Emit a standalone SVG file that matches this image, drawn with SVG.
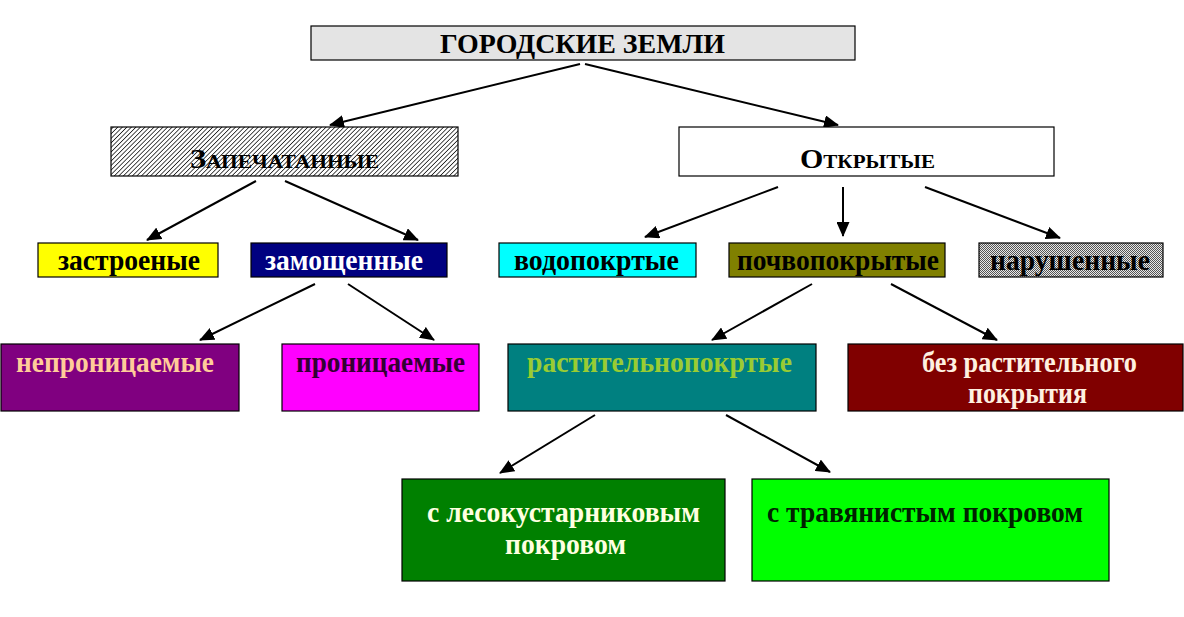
<svg xmlns="http://www.w3.org/2000/svg" width="1184" height="617" viewBox="0 0 1184 617">
<style>
.box{stroke:#000;stroke-width:1.2}
.t{font-family:"Liberation Serif","Times New Roman",serif;font-weight:bold}
.c{stroke:#000;stroke-width:2;fill:none;marker-end:url(#ah)}
</style>
<defs>
<marker id="ah" viewBox="0 0 15 13" refX="14" refY="6.5" markerWidth="15" markerHeight="13" markerUnits="userSpaceOnUse" orient="auto">
<path d="M0,0 L15,6.5 L0,13 Z" fill="#000"/>
</marker>
<pattern id="hatch" width="3.2" height="3.2" patternUnits="userSpaceOnUse" patternTransform="rotate(45)">
<rect width="3.2" height="3.2" fill="#fff"/>
<line x1="0" y1="0" x2="0" y2="3.2" stroke="#000" stroke-width="1.4"/>
</pattern>
<pattern id="dots" width="2" height="2" patternUnits="userSpaceOnUse">
<rect width="2" height="2" fill="#e8e8e8"/>
<rect width="1" height="1" fill="#555"/>
<rect x="1" y="1" width="1" height="1" fill="#555"/>
</pattern>
</defs>
<rect width="1184" height="617" fill="#fff"/>

<g id="connectors">
<line class="c" x1="580" y1="64" x2="330" y2="125"/>
<line class="c" x1="585" y1="64" x2="838" y2="125"/>
<line class="c" x1="256" y1="181" x2="147" y2="240"/>
<line class="c" x1="285" y1="181" x2="418" y2="240"/>
<line class="c" x1="778" y1="187" x2="645" y2="237"/>
<line class="c" x1="843" y1="187" x2="843" y2="236"/>
<line class="c" x1="925" y1="187" x2="1060" y2="238"/>
<line class="c" x1="315" y1="284" x2="200" y2="340"/>
<line class="c" x1="348" y1="284" x2="434" y2="340"/>
<line class="c" x1="812" y1="284" x2="712" y2="340"/>
<line class="c" x1="891" y1="284" x2="997" y2="340"/>
<line class="c" x1="595" y1="415" x2="500" y2="473"/>
<line class="c" x1="726" y1="415" x2="830" y2="472"/>
</g>

<g id="gorodskie">
<rect class="box" x="311" y="26" width="544" height="34" fill="#e4e4e4"/>
<text class="t" x="440" y="53" font-size="27" textLength="285" lengthAdjust="spacingAndGlyphs" fill="#000">ГОРОДСКИЕ ЗЕМЛИ</text>
</g>

<g id="zapechatannye">
<rect class="box" x="111" y="127" width="347" height="49" fill="url(#hatch)"/>
<text class="t" x="190" y="168" font-size="27" font-variant="small-caps" textLength="189" lengthAdjust="spacingAndGlyphs" fill="#000">Запечатанные</text>
</g>

<g id="otkrytye">
<rect class="box" x="679" y="127" width="375" height="49" fill="#fff"/>
<text class="t" x="800" y="168" font-size="27" font-variant="small-caps" textLength="135" lengthAdjust="spacingAndGlyphs" fill="#000">Открытые</text>
</g>

<g id="zastroenye">
<rect class="box" x="38" y="243" width="180" height="34" fill="#ffff00"/>
<text class="t" x="58" y="270" font-size="29" textLength="142" lengthAdjust="spacingAndGlyphs" fill="#000">застроеные</text>
</g>

<g id="zamoshchennye">
<rect class="box" x="251" y="243" width="196" height="34" fill="#000080"/>
<text class="t" x="265" y="270" font-size="29" textLength="158" lengthAdjust="spacingAndGlyphs" fill="#fff">замощенные</text>
</g>

<g id="vodopokrtye">
<rect class="box" x="499" y="243" width="197" height="34" fill="#00ffff"/>
<text class="t" x="514" y="270" font-size="29" textLength="165" lengthAdjust="spacingAndGlyphs" fill="#000">водопокртые</text>
</g>

<g id="pochvopokrytye">
<rect class="box" x="729" y="243" width="216" height="34" fill="#808000"/>
<text class="t" x="737" y="270" font-size="29" textLength="202" lengthAdjust="spacingAndGlyphs" fill="#000">почвопокрытые</text>
</g>

<g id="narushennye">
<rect class="box" x="979" y="243" width="184" height="34" fill="url(#dots)"/>
<text class="t" x="990" y="270" font-size="29" textLength="160" lengthAdjust="spacingAndGlyphs" fill="#000">нарушенные</text>
</g>

<g id="nepronitsaemye">
<rect class="box" x="1" y="344" width="238" height="67" fill="#800080"/>
<text class="t" x="16" y="372" font-size="29" textLength="198" lengthAdjust="spacingAndGlyphs" fill="#ffcc99">непроницаемые</text>
</g>

<g id="pronitsaemye">
<rect class="box" x="282" y="344" width="197" height="67" fill="#ff00ff"/>
<text class="t" x="296" y="372" font-size="29" textLength="169" lengthAdjust="spacingAndGlyphs" fill="#330033">проницаемые</text>
</g>

<g id="rastitelnopokrtye">
<rect class="box" x="508" y="344" width="308" height="67" fill="#008080"/>
<text class="t" x="527" y="372" font-size="29" textLength="265" lengthAdjust="spacingAndGlyphs" fill="#99cc33">растительнопокртые</text>
</g>

<g id="bez-rastitelnogo">
<rect class="box" x="848" y="344" width="335" height="67" fill="#800000"/>
<text class="t" x="922" y="372" font-size="29" textLength="215" lengthAdjust="spacingAndGlyphs" fill="#fff0e0">без растительного</text>
<text class="t" x="968" y="403" font-size="29" textLength="119" lengthAdjust="spacingAndGlyphs" fill="#fff0e0">покрытия</text>
</g>

<g id="lesokustarnikovym">
<rect class="box" x="402" y="479" width="323" height="102" fill="#008000"/>
<text class="t" x="427" y="522" font-size="29" textLength="273" lengthAdjust="spacingAndGlyphs" fill="#ffffe0">с лесокустарниковым</text>
<text class="t" x="505" y="554" font-size="29" textLength="121" lengthAdjust="spacingAndGlyphs" fill="#ffffe0">покровом</text>
</g>

<g id="travyanistym">
<rect class="box" x="752" y="479" width="357" height="102" fill="#00ff00"/>
<text class="t" x="767" y="522" font-size="29" textLength="316" lengthAdjust="spacingAndGlyphs" fill="#002200">с травянистым покровом</text>
</g>
</svg>
